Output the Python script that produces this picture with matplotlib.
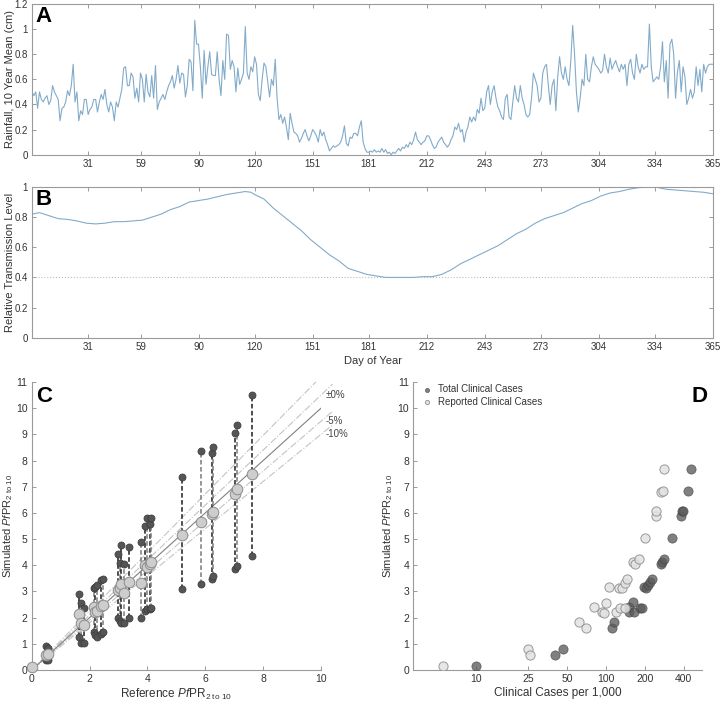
import numpy as np
import matplotlib
matplotlib.use('Agg')
import matplotlib.pyplot as plt
from matplotlib.ticker import NullLocator

plt.rcParams['font.family'] = ['Liberation Sans', 'DejaVu Sans']
plt.rcParams['mathtext.fontset'] = 'custom'
plt.rcParams['mathtext.rm'] = 'Liberation Sans'
plt.rcParams['mathtext.it'] = 'Liberation Sans:italic'
plt.rcParams['mathtext.bf'] = 'Liberation Sans:bold'

# ---------------- Panel A: daily rainfall (10 year mean, cm) ----------------
rain = [
    # days 1-30
    0.50, 0.47, 0.50, 0.37, 0.50, 0.44, 0.42, 0.45, 0.47, 0.40, 0.43, 0.55, 0.50, 0.47, 0.44,
    0.27, 0.37, 0.38, 0.42, 0.51, 0.47, 0.55, 0.72, 0.42, 0.50, 0.27, 0.35, 0.32, 0.44, 0.44,
    # days 31-59
    0.32, 0.36, 0.38, 0.44, 0.44, 0.34, 0.42, 0.48, 0.44, 0.52, 0.40, 0.34, 0.42, 0.38, 0.27,
    0.42, 0.38, 0.45, 0.52, 0.69, 0.70, 0.55, 0.55, 0.65, 0.62, 0.45, 0.53, 0.42, 0.65,
    # days 60-90
    0.60, 0.42, 0.64, 0.50, 0.46, 0.63, 0.45, 0.71, 0.36, 0.42, 0.45, 0.48, 0.44, 0.50, 0.55,
    0.58, 0.63, 0.53, 0.60, 0.71, 0.57, 0.65, 0.64, 0.46, 0.55, 0.76, 0.74, 0.51, 1.07, 0.88, 0.88,
    # days 91-120
    0.70, 0.45, 0.83, 0.56, 0.70, 0.82, 0.64, 0.63, 0.63, 0.82, 0.60, 0.47, 0.75, 0.60, 0.96,
    0.95, 0.68, 0.75, 0.70, 0.50, 0.69, 0.56, 0.60, 0.65, 1.02, 0.65, 0.60, 0.70, 0.66, 0.78,
    # days 121-150
    0.72, 0.48, 0.43, 0.60, 0.73, 0.70, 0.58, 0.46, 0.60, 0.55, 0.76, 0.45, 0.28, 0.32, 0.25,
    0.30, 0.22, 0.12, 0.33, 0.25, 0.18, 0.17, 0.15, 0.10, 0.13, 0.17, 0.20, 0.15, 0.11, 0.15,
    # days 151-180
    0.20, 0.18, 0.15, 0.10, 0.20, 0.15, 0.18, 0.12, 0.08, 0.03, 0.05, 0.07, 0.06, 0.07, 0.08,
    0.10, 0.15, 0.23, 0.09, 0.07, 0.14, 0.13, 0.17, 0.17, 0.15, 0.22, 0.27, 0.10, 0.05, 0.02,
    # days 181-212
    0.02, 0.03, 0.02, 0.04, 0.02, 0.03, 0.02, 0.05, 0.02, 0.04, 0.01, 0.02, 0.00, 0.02, 0.01,
    0.03, 0.05, 0.03, 0.06, 0.05, 0.08, 0.06, 0.10, 0.08, 0.12, 0.18, 0.12, 0.10, 0.08, 0.10,
    0.11, 0.15,
    # days 213-243
    0.15, 0.12, 0.08, 0.05, 0.06, 0.10, 0.12, 0.14, 0.10, 0.08, 0.06, 0.08, 0.12, 0.15, 0.22,
    0.20, 0.25, 0.18, 0.20, 0.10, 0.18, 0.22, 0.30, 0.26, 0.30, 0.27, 0.36, 0.33, 0.45, 0.35, 0.37,
    # days 244-273
    0.50, 0.55, 0.40, 0.50, 0.55, 0.45, 0.38, 0.35, 0.30, 0.28, 0.45, 0.48, 0.30, 0.28, 0.42,
    0.55, 0.45, 0.42, 0.55, 0.45, 0.40, 0.32, 0.30, 0.32, 0.45, 0.65, 0.60, 0.55, 0.42, 0.45,
    # days 274-304
    0.65, 0.70, 0.72, 0.55, 0.40, 0.55, 0.60, 0.35, 0.62, 0.78, 0.65, 0.60, 0.70, 0.60, 0.55,
    0.75, 1.03, 0.80, 0.50, 0.34, 0.45, 0.60, 0.55, 0.80, 0.60, 0.58, 0.70, 0.78, 0.72, 0.70, 0.68,
    # days 305-334
    0.65, 0.67, 0.80, 0.70, 0.65, 0.77, 0.68, 0.72, 0.75, 0.70, 0.66, 0.72, 0.68, 0.72, 0.55,
    0.72, 0.76, 0.65, 0.60, 0.80, 0.70, 0.65, 0.72, 0.68, 0.70, 0.70, 1.04, 0.70, 0.58, 0.60,
    # days 335-365
    0.62, 0.60, 0.70, 0.90, 0.58, 0.75, 0.45, 0.88, 0.92, 0.80, 0.45, 0.66, 0.75, 0.50, 0.70,
    0.62, 0.40, 0.45, 0.52, 0.45, 0.50, 0.70, 0.55, 0.68, 0.50, 0.72, 0.65, 0.70, 0.72, 0.72, 0.72,
]
days = np.arange(1, len(rain) + 1)

# ---------------- Panel B: relative transmission level ----------------
trans_days = [1, 5, 10, 15, 20, 25, 30, 35, 40, 45, 50, 55, 60, 65, 70, 75, 80, 85, 90, 95,
              100, 105, 110, 115, 118, 120, 125, 130, 135, 140, 145, 150, 155, 160, 165, 170,
              175, 180, 185, 190, 195, 200, 205, 210, 215, 220, 225, 230, 235, 240, 245, 250,
              255, 260, 265, 270, 275, 280, 285, 290, 295, 300, 305, 310, 315, 320, 325, 330,
              334, 340, 345, 350, 355, 360, 365]
trans_vals = [0.82, 0.83, 0.81, 0.79, 0.785, 0.775, 0.76, 0.755, 0.76, 0.77, 0.77, 0.775,
              0.78, 0.80, 0.82, 0.85, 0.87, 0.90, 0.91, 0.92, 0.935, 0.95, 0.96, 0.97, 0.965,
              0.95, 0.92, 0.86, 0.81, 0.76, 0.71, 0.65, 0.60, 0.55, 0.51, 0.46, 0.44, 0.42,
              0.41, 0.40, 0.40, 0.40, 0.40, 0.405, 0.405, 0.42, 0.45, 0.49, 0.52, 0.55, 0.58,
              0.61, 0.65, 0.69, 0.72, 0.76, 0.79, 0.81, 0.83, 0.86, 0.89, 0.91, 0.94, 0.96,
              0.97, 0.985, 0.995, 1.0, 1.0, 0.985, 0.98, 0.975, 0.97, 0.965, 0.955]
trans_floor = 0.4
month_ticks = [31, 59, 90, 120, 151, 181, 212, 243, 273, 304, 334, 365]

# ---------------- Panel C: reference vs simulated PfPR ----------------
ref_pfpr = [0.02, 0.50, 0.56, 1.62, 1.69, 1.81, 2.15, 2.20, 2.27, 2.38, 2.47,
            2.97, 3.05, 3.10, 3.18, 3.38, 3.77, 3.93, 3.98, 4.08, 4.13,
            5.18, 5.84, 6.24, 6.27, 7.03, 7.09, 7.63]
sim_mean = [0.10, 0.58, 0.62, 2.15, 1.79, 1.72, 2.40, 2.20, 2.25, 2.45, 2.48,
            3.07, 3.14, 3.27, 2.94, 3.36, 3.33, 4.00, 3.93, 4.06, 4.12,
            5.15, 5.66, 5.95, 6.02, 6.74, 6.90, 7.48]
sim_low = [0.08, 0.38, 0.40, 1.25, 1.03, 1.02, 1.45, 1.32, 1.25, 1.38, 1.45,
           2.00, 1.86, 1.79, 1.78, 2.00, 2.00, 2.27, 2.34, 2.32, 2.36,
           3.10, 3.27, 3.48, 3.58, 3.87, 3.97, 4.36]
sim_high = [0.12, 0.92, 0.84, 2.90, 2.55, 2.36, 3.15, 3.17, 3.25, 3.42, 3.47,
            4.44, 4.09, 4.78, 4.06, 4.70, 4.89, 5.49, 5.82, 5.57, 5.82,
            7.38, 8.37, 8.27, 8.50, 9.04, 9.34, 10.49]
ref_slopes = [1.12, 1.05, 0.95, 0.90]
ref_labels = [(1.05, '\u00b10%'), (0.95, '-5%'), (0.90, '-10%')]

# ---------------- Panel D: clinical cases vs simulated PfPR ----------------
total_cases = [10, 40.4, 46.3, 112, 116, 151, 151, 163, 165, 183, 189, 197, 204, 212, 221,
               229, 266, 271, 282, 326, 380, 387, 396, 428, 454]
total_pfpr = [0.14, 0.56, 0.79, 1.62, 1.84, 2.20, 2.41, 2.58, 2.20, 2.35, 2.35, 3.17, 3.15,
              3.24, 3.36, 3.49, 4.06, 4.14, 4.25, 5.05, 5.90, 6.09, 6.09, 6.83, 7.68]
reported_cases = [5.5, 24.8, 25.8, 61.8, 70.8, 81, 93.7, 96.7, 100, 105, 119, 126, 129, 134,
                  140, 140, 146, 163, 169, 181, 201, 244, 244, 268, 274, 279]
reported_pfpr = [0.14, 0.80, 0.57, 1.84, 1.62, 2.42, 2.22, 2.17, 2.56, 3.17, 2.20, 3.12, 2.35,
                 3.12, 3.34, 2.35, 3.49, 4.14, 4.06, 4.24, 5.05, 5.90, 6.09, 6.80, 6.85, 7.68]
d_xticks = [10, 25, 50, 100, 200, 400]

# ---------------- Figure ----------------
W, H = 722, 705
fig = plt.figure(figsize=(W / 100, H / 100), dpi=100)


def ax_px(l, t, r, b):
    return fig.add_axes([l / W, 1 - b / H, (r - l) / W, (b - t) / H])


SPINE = '#9a9a9a'
TXT = '#333333'
LINE = '#82abca'


def style(ax, box, fs):
    for s in ax.spines.values():
        s.set_color(SPINE)
        s.set_linewidth(0.8)
    if not box:
        ax.spines['top'].set_visible(False)
        ax.spines['right'].set_visible(False)
    ax.tick_params(direction='in', length=3, width=0.7, color=SPINE, labelcolor=TXT,
                   labelsize=fs, top=box, right=box, pad=3)


def fmt(v):
    return ('%g' % v)


axA = ax_px(32, 4, 713, 154.7)
axB = ax_px(32, 187, 713, 337.7)
axC = ax_px(31.7, 382, 321, 670)
axD = ax_px(413.3, 382, 701.7, 670)

# Panel A
axA.plot(days, rain, color=LINE, lw=0.8)
axA.set_xlim(1, 365)
axA.set_ylim(0, 1.2)
axA.set_xticks(month_ticks)
yt = [0, 0.2, 0.4, 0.6, 0.8, 1.0, 1.2]
axA.set_yticks(yt)
axA.set_yticklabels([fmt(v) for v in yt])
axA.set_ylabel('Rainfall, 10 Year Mean (cm)', fontsize=8, color=TXT)
axA.yaxis.set_label_coords(-0.025, 0.5)
style(axA, True, 7)
axA.text(0.005, 0.985, 'A', transform=axA.transAxes, fontsize=16, fontweight='bold',
         va='top', ha='left', color='black')

# Panel B
axB.axhline(trans_floor, color='#bdbdbd', ls=':', lw=0.8)
axB.plot(trans_days, trans_vals, color=LINE, lw=0.8)
axB.set_xlim(1, 365)
axB.set_ylim(0, 1)
axB.set_xticks(month_ticks)
yt = [0, 0.2, 0.4, 0.6, 0.8, 1.0]
axB.set_yticks(yt)
axB.set_yticklabels([fmt(v) for v in yt])
axB.set_ylabel('Relative Transmission Level', fontsize=8, color=TXT)
axB.yaxis.set_label_coords(-0.025, 0.5)
axB.set_xlabel('Day of Year', fontsize=8, color=TXT, labelpad=3)
style(axB, True, 7)
axB.text(0.005, 0.985, 'B', transform=axB.transAxes, fontsize=16, fontweight='bold',
         va='top', ha='left', color='black')

# Panel C
for k in ref_slopes:
    xe = min(10.4, 11 / k)
    axC.plot([0, xe], [0, k * xe], color='#c4c4c4', lw=0.8, ls='-.', clip_on=False, zorder=1)
axC.plot([0, 10], [0, 10], color='#808080', lw=0.8, zorder=2)
for k, lab in ref_labels:
    axC.text(10.15, k * 10 + 0.02, lab, fontsize=7, color='#444444', va='center', ha='left',
             clip_on=False)
for i, (x, lo, hi) in enumerate(zip(ref_pfpr, sim_low, sim_high)):
    col = '#1e1e1e' if i % 2 else '#7a7a7a'
    axC.plot([x, x], [lo, hi], ls=(0, (3, 1.6)), color=col, lw=1.1, zorder=3)
axC.scatter(ref_pfpr + ref_pfpr, sim_low + sim_high, s=26, facecolor='#555555',
            edgecolor='#3a3a3a', linewidth=0.5, zorder=4, clip_on=False)
axC.scatter(ref_pfpr, sim_mean, s=58, facecolor='#cdcdcd', edgecolor='#8c8c8c',
            linewidth=0.7, zorder=5, clip_on=False)
axC.set_xlim(0, 10)
axC.set_ylim(0, 11)
axC.set_xticks([0, 2, 4, 6, 8, 10])
axC.set_yticks(range(0, 12))
axC.set_xlabel(r'Reference $\mathit{Pf}$PR$_{\mathrm{2\ to\ 10}}$', fontsize=8.5, color=TXT,
               labelpad=2)
axC.set_ylabel(r'Simulated $\mathit{Pf}$PR$_{\mathrm{2\ to\ 10}}$', fontsize=8, color=TXT)
axC.yaxis.set_label_coords(-0.058, 0.5)
style(axC, False, 7.5)
axC.text(0.015, 0.985, 'C', transform=axC.transAxes, fontsize=16, fontweight='bold',
         va='top', ha='left', color='black')

# Panel D
axD.scatter(total_cases, total_pfpr, s=44, facecolor='#5c5c5c', edgecolor='#404040',
            linewidth=0.5, alpha=0.78, zorder=3, label='Total Clinical Cases')
axD.scatter(reported_cases, reported_pfpr, s=44, facecolor='#e2e2e2', edgecolor='#8a8a8a',
            linewidth=0.7, alpha=0.85, zorder=4, label='Reported Clinical Cases')
axD.set_xscale('log')
axD.set_xlim(3.25, 550)
axD.set_ylim(0, 11)
axD.set_xticks(d_xticks)
axD.set_xticklabels([str(v) for v in d_xticks])
axD.xaxis.set_minor_locator(NullLocator())
axD.set_yticks(range(0, 12))
axD.set_xlabel('Clinical Cases per 1,000', fontsize=8.5, color=TXT, labelpad=2)
axD.set_ylabel(r'Simulated $\mathit{Pf}$PR$_{\mathrm{2\ to\ 10}}$', fontsize=8, color=TXT)
axD.yaxis.set_label_coords(-0.062, 0.5)
style(axD, False, 7.5)
leg = axD.legend(loc='upper left', bbox_to_anchor=(0.0, 1.015), frameon=False, fontsize=7,
                 markerscale=0.45, handletextpad=0.3, labelspacing=0.25, borderaxespad=0.3,
                 handlelength=1.5)
for t in leg.get_texts():
    t.set_color(TXT)
axD.text(1.02, 0.985, 'D', transform=axD.transAxes, fontsize=16, fontweight='bold',
         va='top', ha='right', color='black')

fig.savefig('out.png', dpi=100)
